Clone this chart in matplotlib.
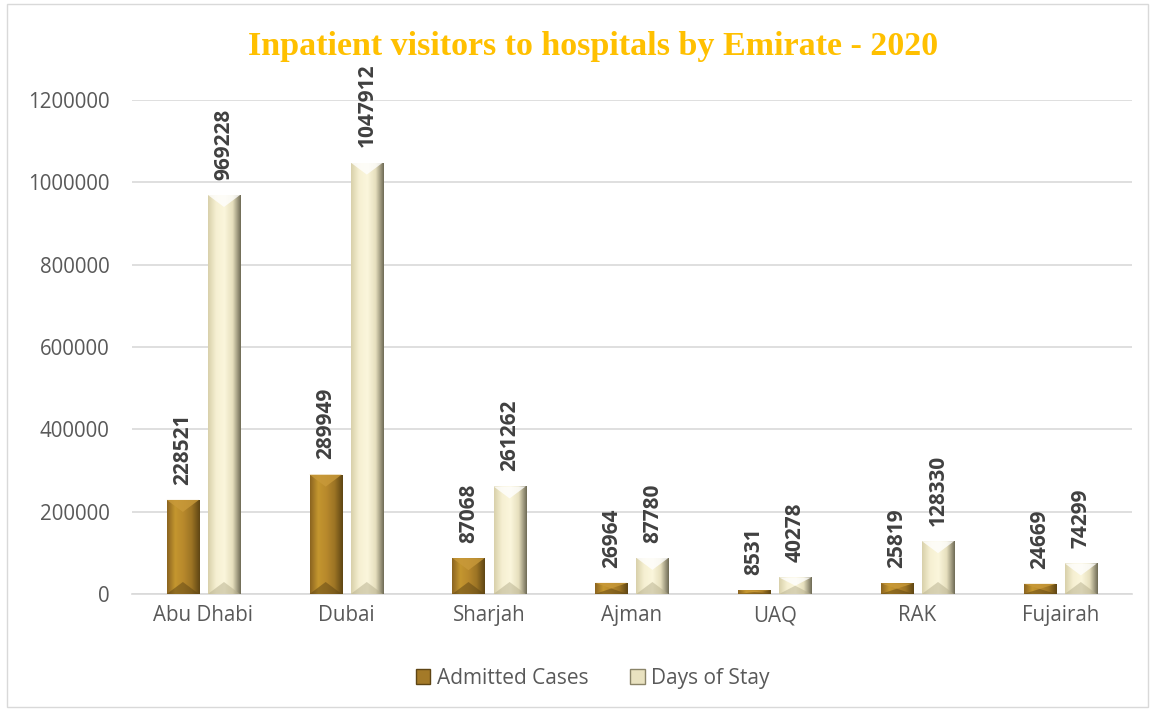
import matplotlib
matplotlib.use("Agg")
import matplotlib.pyplot as plt
import numpy as np
from matplotlib.colors import LinearSegmentedColormap
from matplotlib.patches import Rectangle, Patch, Polygon

emirates = ["Abu Dhabi", "Dubai", "Sharjah", "Ajman", "UAQ", "RAK", "Fujairah"]
admitted_cases = [228521, 289949, 87068, 26964, 8531, 25819, 24669]
days_of_stay = [969228, 1047912, 261262, 87780, 40278, 128330, 74299]
yticks = [0, 200000, 400000, 600000, 800000, 1000000, 1200000]

# bevel-ish gradients across each bar (left -> right)
admitted_cmap = LinearSegmentedColormap.from_list(
    "adm", ["#8a6420", "#c4962f", "#b8892c", "#9c7424", "#5e4514"])
stay_cmap = LinearSegmentedColormap.from_list(
    "stay", ["#d8d0aa", "#f6f0d2", "#fbf6dc", "#e6dfbd", "#6e6a55"])

plt.rcParams["font.family"] = ["Open Sans", "DejaVu Sans"]

fig = plt.figure(figsize=(11.53, 7.10), dpi=100)
ax = fig.add_axes([0.1145, 0.1634, 0.867, 0.6958])

x = np.arange(len(emirates))
w = 0.225
gap = 0.063

ax.set_xlim(-0.5, len(emirates) - 0.5)
ax.set_ylim(0, 1200000)


def gradient_bars(xpos, vals, cmap, label, top_col, bot_col):
    bars = ax.bar(xpos, vals, width=w, color=cmap(0.5), label=label, zorder=2)
    grad = np.linspace(0, 1, 256).reshape(1, -1)
    inv = ax.transData.inverted()
    for b in bars:
        x0, h = b.get_x(), b.get_height()
        im = ax.imshow(grad, cmap=cmap, aspect="auto", zorder=3,
                       extent=[x0, x0 + b.get_width(), 0, h])
        im.set_clip_path(b)
        # top / bottom bevel triangles, sized in pixels
        (px0, py0), (px1, py1) = ax.transData.transform([(x0, 0), (x0 + b.get_width(), h)])
        d = min(12, (py1 - py0) / 2)
        cx = (px0 + px1) / 2
        top = inv.transform([(px0, py1), (px1, py1), (cx, py1 - d)])
        bot = inv.transform([(px0, py0), (px1, py0), (cx, py0 + d)])
        ax.add_patch(Polygon(top, closed=True, facecolor=top_col, edgecolor="none",
                             alpha=0.8, zorder=4))
        ax.add_patch(Polygon(bot, closed=True, facecolor=bot_col, edgecolor="none",
                             alpha=0.5, zorder=4))
    return bars


b1 = gradient_bars(x - (w + gap) / 2, admitted_cases, admitted_cmap, "Admitted Cases",
                   "#c99a3a", "#5e4514")
b2 = gradient_bars(x + (w + gap) / 2, days_of_stay, stay_cmap, "Days of Stay",
                   "#ffffff", "#b5ae8c")

for bars, vals in [(b1, admitted_cases), (b2, days_of_stay)]:
    for b, v in zip(bars, vals):
        ax.annotate(str(v), (b.get_x() + b.get_width() / 2, v),
                    xytext=(0, 11), textcoords="offset points",
                    rotation=90, ha="center", va="bottom",
                    fontsize=15, fontweight="bold", color="#404040",
                    annotation_clip=False, zorder=5)

ax.set_yticks(yticks)
ax.set_yticklabels([str(t) for t in yticks])
ax.set_xticks(x)
ax.set_xticklabels(emirates)
ax.tick_params(axis="both", length=0, labelsize=14.8, colors="#595959")
ax.tick_params(axis="y", pad=16)
ax.tick_params(axis="x", pad=8)
ax.grid(axis="y", color="#d9d9d9", linewidth=1.2, zorder=0)
ax.set_axisbelow(True)
for s in ["left", "right", "top"]:
    ax.spines[s].set_visible(False)
ax.spines["bottom"].set_color("#d9d9d9")
ax.spines["bottom"].set_linewidth(1.2)

fig.text(0.514, 0.935, "Inpatient visitors to hospitals by Emirate - 2020",
         ha="center", va="center", fontsize=24.5, fontweight="bold",
         color="#ffc000", family=["Liberation Serif", "DejaVu Serif"])

handles = [Patch(facecolor="#a47a28", edgecolor="#5e4514", label="Admitted Cases"),
           Patch(facecolor="#e9e2c0", edgecolor="#8a8468", label="Days of Stay")]
fig.legend(handles=handles, loc="center", bbox_to_anchor=(0.514, 0.045), ncol=2,
           frameon=False, fontsize=15, labelcolor="#595959",
           handlelength=0.7, handleheight=0.7, handletextpad=0.3, columnspacing=2.0)

fig.patches.append(Rectangle((0.006, 0.004), 0.99, 0.99, transform=fig.transFigure,
                             fill=False, edgecolor="#d9d9d9", linewidth=1))

fig.savefig("out.png", dpi=100)
